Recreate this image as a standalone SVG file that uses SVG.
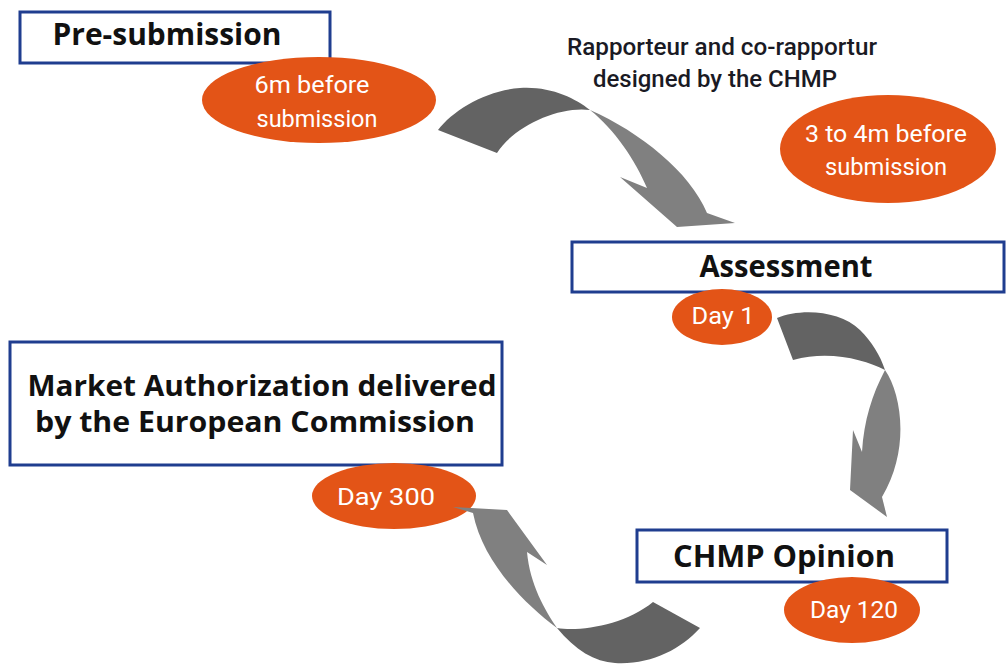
<svg xmlns="http://www.w3.org/2000/svg" width="1008" height="664" viewBox="0 0 1008 664">
<style>
.box{fill:#fff;stroke:#1f3d8f;stroke-width:3}
.title{font-family:"Open Sans","Noto Sans",sans-serif;font-weight:700;font-size:30px;fill:#111;text-anchor:middle}
.title2{font-size:28px}
.oval{fill:#e35417}
.lbl{font-family:"Roboto","Liberation Sans",sans-serif;font-size:24px;fill:#fff;text-anchor:middle}
.note{font-family:"Roboto","Liberation Sans",sans-serif;font-weight:500;font-size:24px;fill:#1a1a24;text-anchor:middle}
.dk{fill:#636363}
.lt{fill:#808080}
</style>
<rect width="1008" height="664" fill="#fff"/>
<g id="pre-submission">
<rect class="box" x="20" y="12" width="310" height="51"/>
<text class="title" x="167" y="45" textLength="229" lengthAdjust="spacingAndGlyphs">Pre-submission</text>
</g>
<g id="six-months">
<ellipse class="oval" cx="319" cy="100" rx="117" ry="43"/>
<text class="lbl" x="312" y="93" textLength="115" lengthAdjust="spacingAndGlyphs">6m before</text>
<text class="lbl" x="317" y="127" textLength="121" lengthAdjust="spacingAndGlyphs">submission</text>
</g>
<g id="rapporteur">
<text class="note" x="722" y="55" textLength="310" lengthAdjust="spacingAndGlyphs">Rapporteur and co-rapportur</text>
<text class="note" x="715" y="87" textLength="244" lengthAdjust="spacingAndGlyphs">designed by the CHMP</text>
</g>
<g id="three-four-months">
<ellipse class="oval" cx="888" cy="149" rx="108" ry="54"/>
<text class="lbl" x="886" y="142" textLength="162" lengthAdjust="spacingAndGlyphs">3 to 4m before</text>
<text class="lbl" x="886" y="175" textLength="122" lengthAdjust="spacingAndGlyphs">submission</text>
</g>
<g id="assessment">
<rect class="box" x="572" y="242" width="432" height="50"/>
<text class="title" x="786" y="277" textLength="173" lengthAdjust="spacingAndGlyphs">Assessment</text>
</g>
<g id="day1">
<ellipse class="oval" cx="722" cy="317" rx="50" ry="28"/>
<text class="lbl" x="723" y="324" textLength="63" lengthAdjust="spacingAndGlyphs">Day 1</text>
</g>
<g id="market-authorization">
<rect class="box" x="10" y="342" width="492" height="123"/>
<text class="title title2" x="262" y="396" textLength="469" lengthAdjust="spacingAndGlyphs">Market Authorization delivered</text>
<text class="title title2" x="255" y="432" textLength="440" lengthAdjust="spacingAndGlyphs">by the European Commission</text>
</g>
<g id="day300">
<ellipse class="oval" cx="394" cy="496" rx="82" ry="33"/>
<text class="lbl" x="386" y="505" textLength="98" lengthAdjust="spacingAndGlyphs">Day 300</text>
</g>
<g id="chmp-opinion">
<rect class="box" x="637" y="530" width="310" height="52"/>
<text class="title" x="784" y="567" textLength="222" lengthAdjust="spacingAndGlyphs">CHMP Opinion</text>
</g>
<g id="day120">
<ellipse class="oval" cx="852" cy="610" rx="68" ry="33"/>
<text class="lbl" x="854" y="618" textLength="88" lengthAdjust="spacingAndGlyphs">Day 120</text>
</g>
<g id="connectors">
<path class="dk" d="M438,130 C453,110 487,90 520,88 C550,86 575,98 590,110 C560,106 515,125 497,153 Z"/>
<path class="lt" d="M590,110 C640,132 690,172 707,213 L735,223 L677,227 L620,177 L647,188 C635,160 615,130 590,110 Z"/>
<path class="dk" d="M777,318 C800,308 840,310 860,330 C872,342 880,355 885,370 C865,360 830,350 793,360 Z"/>
<path class="lt" d="M885,370 C902,395 910,450 882,497 L887,517 L850,490 L853,430 L862,452 C864,420 872,395 885,370 Z"/>
<path class="dk" d="M653,602 L700,628 C680,650 650,665 615,663 C595,662 575,650 557,628 C580,632 625,625 653,602 Z"/>
<path class="lt" d="M557,628 C522,602 482,560 473,513 L453,507 L507,510 L547,565 L527,552 C530,585 545,610 557,628 Z"/>
</g>
</svg>
